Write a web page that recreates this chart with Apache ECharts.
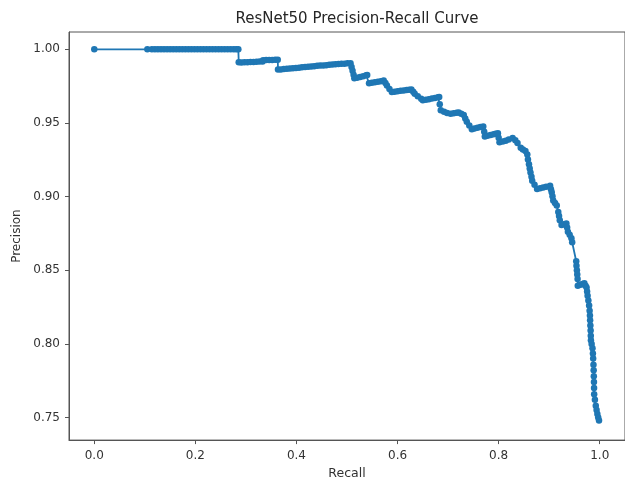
<!DOCTYPE html>
<html>
<head>
<meta charset="utf-8">
<script src="https://cdn.jsdelivr.net/npm/echarts@6/dist/echarts.min.js"></script>
<style>html,body{margin:0;padding:0;background:#fff}#c{width:625px;height:485px}</style>
</head>
<body>
<div id="c"></div>
<script>
// Recall values
const recall = [
0,0.105,0.114,0.12,0.126,0.132,0.138,0.144,0.15,0.156,0.162,0.168,0.174,0.18,0.186,0.192,0.198,0.204,0.21,0.216,0.222,0.228,0.234,0.24,0.246,0.252,0.258,0.264,0.27,0.276,0.281,0.285,
0.2858,0.291,0.297,0.303,0.309,0.315,0.321,0.327,0.333,0.334,0.34,0.346,0.352,0.358,0.363,0.3635,0.369,0.375,0.381,0.387,0.393,0.399,0.405,0.411,0.417,0.423,0.429,0.435,0.441,0.447,0.453,0.459,0.465,0.471,0.477,0.483,0.489,0.495,0.501,0.507,
0.509,0.511,0.513,0.5145,0.52,0.526,0.532,0.538,0.54,0.5436,0.549,0.555,0.561,0.567,0.5726,0.576,0.579,0.584,0.5887,0.594,0.6,0.606,0.612,0.618,0.623,0.6274,0.631,0.634,0.64,0.6468,0.65,0.656,0.662,0.668,0.674,0.68,0.6824,
0.6835,0.6855,0.692,0.698,0.705,0.711,0.717,0.721,0.726,0.731,0.734,0.737,0.742,0.747,0.752,0.758,0.764,0.7696,0.7715,0.7727,0.778,0.784,0.79,0.794,0.7986,0.8,0.8017,0.808,0.814,0.82,0.8277,0.833,0.8373,0.8437,0.848,0.853,0.8567,0.858,0.86,0.8615,0.863,0.865,0.8664,0.871,0.876,0.882,0.888,0.894,0.9018,0.9035,0.905,0.9065,0.908,0.9115,0.915,0.918,0.9195,0.921,0.9245,0.929,0.934,0.9355,0.937,0.9405,0.944,0.9455,
0.9535,0.954,0.9548,0.9555,0.9562,0.9566,0.962,0.966,0.9696,0.972,0.974,0.975,0.976,0.9775,0.979,0.98,0.9806,0.981,0.9815,0.982,0.9823,0.9826,0.984,0.9857,0.9865,0.987,0.9876,0.988,0.9883,0.9886,0.9888,0.989,0.9905,0.9922,0.9938,0.9953,0.997,0.9986
];
// Precision values
const precision = [
1.0,1.0,1.0,1.0,1.0,1.0,1.0,1.0,1.0,1.0,1.0,1.0,1.0,1.0,1.0,1.0,1.0,1.0,1.0,1.0,1.0,1.0,1.0,1.0,1.0,1.0,1.0,1.0,1.0,1.0,1.0,1.0,
0.9912,0.9911,0.9912,0.9913,0.9914,0.9915,0.9916,0.9917,0.9918,0.9926,0.9927,0.9928,0.9928,0.9929,0.9929,0.9863,0.9864,0.9866,0.9868,0.987,0.9872,0.9874,0.9876,0.9878,0.988,0.9882,0.9884,0.9886,0.9888,0.989,0.9891,0.9893,0.9895,0.9897,0.9899,0.99,0.9902,0.9903,0.9905,0.9906,
0.988,0.9855,0.9828,0.9804,0.9808,0.9813,0.9818,0.9824,0.9826,0.977,0.9773,0.9777,0.978,0.9784,0.9788,0.9772,0.9754,0.9731,0.971,0.9713,0.9716,0.9719,0.9721,0.9724,0.9726,0.9728,0.9712,0.9699,0.9682,0.9665,0.9654,0.9658,0.9662,0.9666,0.967,0.9675,0.9677,
0.9628,0.9587,0.9576,0.9568,0.9562,0.9566,0.957,0.9572,0.9563,0.9554,0.953,0.9509,0.9483,0.9458,0.9462,0.9467,0.9472,0.9476,0.944,0.9409,0.9413,0.9418,0.9423,0.9427,0.9431,0.94,0.9369,0.9375,0.938,0.9387,0.9398,0.9382,0.9364,0.9331,0.932,0.9309,0.9286,0.9252,0.9219,0.919,0.9163,0.9135,0.9108,0.908,0.9052,0.9057,0.9062,0.9067,0.9074,0.905,0.9029,0.9002,0.8974,0.8957,0.894,0.8896,0.8868,0.884,0.8807,0.8812,0.8817,0.879,0.8762,0.874,0.8717,0.869,
0.8561,0.853,0.85,0.847,0.844,0.8394,0.8401,0.8407,0.8412,0.8395,0.8382,0.8355,0.8327,0.8295,0.826,0.8225,0.8193,0.816,0.8125,0.809,0.8055,0.8025,0.7998,0.797,0.7935,0.79,0.7858,0.782,0.778,0.774,0.77,0.7657,0.762,0.7579,0.755,0.7523,0.75,0.7479
];
const xTicks = [0.0, 0.2, 0.4, 0.6, 0.8, 1.0];
const yTicks = [0.75, 0.80, 0.85, 0.90, 0.95, 1.00];

const pts = recall.map((r, i) => [r, precision[i]]);
const chart = echarts.init(document.getElementById('c'), null, {renderer: 'canvas'});
const font = 'DejaVu Sans';
chart.setOption({
  animation: false,
  backgroundColor: '#fff',
  textStyle: {fontFamily: font},
  title: {
    text: 'ResNet50 Precision-Recall Curve',
    left: 352, top: 7, textAlign: 'center',
    textStyle: {fontFamily: font, fontSize: 15, fontWeight: 'normal', color: '#262626'}
  },
  grid: {left: 69, top: 32, width: 567, height: 414, show: true, borderColor: '#555', borderWidth: 1, containLabel: false},
  xAxis: {
    type: 'value', min: -0.05, max: 1.05,
    name: 'Recall', nameLocation: 'middle', nameGap: 26,
    nameTextStyle: {fontFamily: font, fontSize: 12.5, color: '#333'},
    axisLine: {show: true, onZero: false, lineStyle: {color: '#555', width: 1}},
    axisTick: {show: true, length: 4, lineStyle: {color: '#555'}, customValues: xTicks},
    axisLabel: {fontFamily: font, fontSize: 12, color: '#333', margin: 10, customValues: xTicks, formatter: v => v.toFixed(1)},
    splitLine: {show: false}
  },
  yAxis: {
    type: 'value', min: 0.7346, max: 1.0118,
    name: 'Precision', nameLocation: 'middle', nameGap: 43,
    nameTextStyle: {fontFamily: font, fontSize: 12, color: '#333'},
    axisLine: {show: true, onZero: false, lineStyle: {color: '#555', width: 1}},
    axisTick: {show: true, length: 4, lineStyle: {color: '#555'}, customValues: yTicks},
    axisLabel: {fontFamily: font, fontSize: 12, color: '#333', margin: 9, customValues: yTicks, formatter: v => v.toFixed(2)},
    splitLine: {show: false}
  },
  series: [{
    type: 'line', data: pts,
    symbol: 'circle', symbolSize: 6.5, showSymbol: true, showAllSymbol: true,
    lineStyle: {color: '#1f77b4', width: 1.8},
    itemStyle: {color: '#1f77b4'},
    emphasis: {disabled: true}
  }]
});
</script>
</body>
</html>
